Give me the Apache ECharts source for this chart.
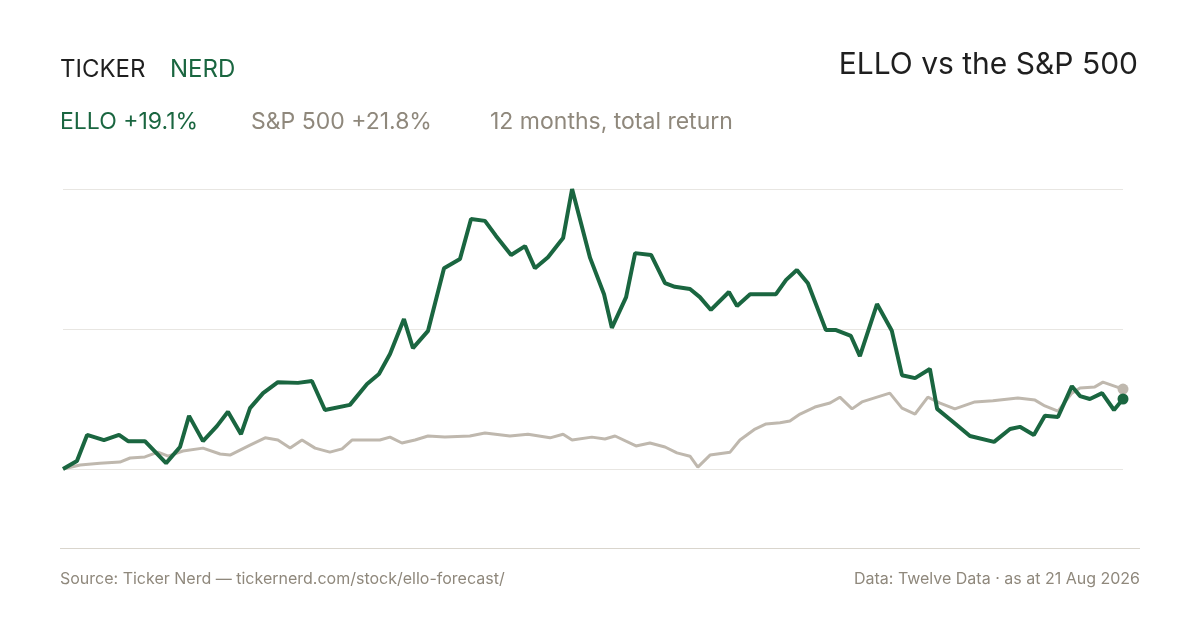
<!DOCTYPE html>
<html>
<head>
<meta charset="utf-8">
<script src="https://cdn.jsdelivr.net/npm/echarts@6/dist/echarts.min.js"></script>
<style>
html,body{margin:0;padding:0;background:#fff;}
#chart{width:1200px;height:630px;}
</style>
</head>
<body>
<div id="chart"></div>
<script>
// [day, total return %]
var ello = [[0,0],[4.8,2.2],[8.3,9.3],[14.1,7.9],[19.3,9.3],[22.4,7.6],[28.2,7.6],[35.5,1.6],[40.3,6.0],[43.4,14.5],
	[48.2,7.6],[53,11.7],[56.8,15.6],[61.3,9.5],[64.4,16.6],[68.9,20.7],[74,23.7],[80.9,23.5],[85.7,24.0],[90.2,16.1],
	[98.8,17.5],[104.7,23.2],[108.8,25.9],[112.6,31.4],[117.4,40.9],[120.5,33.0],[125.7,37.7],[131.2,54.8],[136.7,57.3],[140.5,68.2],
	[145.3,67.7],[149.1,63.6],[154.3,58.4],[159.1,60.8],[162.5,54.8],[167,57.8],[172.2,63.0],[175.3,76.4],[181.5,57.6],[186.3,47.7],
	[189,38.5],[193.9,46.9],[197,58.9],[202.5,58.4],[207.3,50.7],[210.7,49.7],[215.9,49.1],[219.3,46.9],[223.1,43.4],[229.3,48.3],
	[232.1,44.5],[236.6,47.7],[245.5,47.7],[249,51.6],[252.7,54.3],[256.5,50.7],[262.7,37.9],[266.2,37.9],[271.3,36.3],[274.4,30.8],
	[280.3,45.0],[285.4,37.7],[288.9,25.6],[293.4,24.8],[298.5,27.3],[301,16.4],[306.1,13.1],[312.3,9.0],[320.6,7.4],[326.1,10.9],
	[329.5,11.5],[334.3,9.3],[338.1,14.5],[342.6,14.2],[347.4,22.6],[350.2,19.9],[353.6,19.1],[357.8,20.7],[361.9,16.1],[365,19.1]];
var spx = [[0,0],[5.9,1.1],[12.7,1.6],[19.6,1.9],[23.1,3.0],[28.2,3.3],[32.7,4.6],[36.2,3.5],[41.3,4.9],[48.2,5.7],
	[54.1,4.1],[57.5,3.8],[64.4,6.5],[69.6,8.5],[74,7.9],[78.2,5.7],[82.3,7.9],[86.8,5.7],[91.9,4.6],[96.1,5.5],
	[99.5,7.9],[109.1,7.9],[112.6,8.7],[116.7,7.1],[121.2,7.9],[125.7,9.0],[131.5,8.7],[140.1,9.0],[145.3,9.8],[153.9,9.0],
	[160.1,9.5],[167.7,8.5],[172.2,9.5],[175.3,7.9],[182.1,8.7],[186.6,8.2],[190.1,9.0],[197.3,6.3],[202.1,7.1],[207.3,6.0],
	[211.4,4.4],[215.9,3.5],[218.6,0.5],[222.8,3.8],[229.7,4.6],[233.1,7.9],[238.3,10.9],[242.1,12.3],[246.9,12.6],[250.3,13.1],
	[253.8,15.0],[258.9,16.9],[264.1,18.0],[267.5,19.6],[271.7,16.4],[275.1,18.3],[280.3,19.6],[284.7,20.7],[288.9,16.6],[293.4,15.0],
	[297.8,19.6],[302,18.0],[307.1,16.4],[314,18.3],[320.2,18.6],[328.8,19.4],[334.7,18.8],[338.1,17.2],[342.6,15.8],[347.4,20.7],
	[350.2,22.1],[355.3,22.4],[358.1,23.7],[365,21.8]];

var myChart = echarts.init(document.getElementById('chart'));
var font = 'Inter, "Noto Sans", sans-serif';
var option = {
	backgroundColor: '#fff',
	animation: false,
	grid: {left: 63, right: 77, top: 189, bottom: 161},
	xAxis: {type: 'value', min: 0, max: 365, show: false},
	yAxis: {
		type: 'value', min: 0, max: 76.4, interval: 38.2,
		axisLabel: {show: false}, axisLine: {show: false}, axisTick: {show: false},
		splitLine: {lineStyle: {color: '#e8e6e2', width: 1}}
	},
	graphic: [
		{type: 'text', left: 60, top: 58, style: {text: 'TICKER', font: '400 24px ' + font, fill: '#1f1f1f', letterSpacing: 2}},
		{type: 'text', left: 170, top: 58, style: {text: 'NERD', font: '400 24px ' + font, fill: '#1a6640', letterSpacing: 2}},
		{type: 'text', right: 62, top: 50, style: {text: 'ELLO vs the S&P 500', font: '400 30px ' + font, fill: '#1f1f1f'}},
		{type: 'text', left: 60, top: 111, style: {text: 'ELLO +19.1%', font: '400 23px ' + font, fill: '#1a6640'}},
		{type: 'text', left: 251, top: 111, style: {text: 'S&P 500 +21.8%', font: '400 23px ' + font, fill: '#8f887c'}},
		{type: 'text', left: 490, top: 111, style: {text: '12 months, total return', font: '400 23px ' + font, fill: '#8f887c'}},
		{type: 'rect', shape: {x: 60, y: 548, width: 1080, height: 1}, style: {fill: '#d9d5cd'}},
		{type: 'text', left: 60, top: 571, style: {text: 'Source: Ticker Nerd \u2014 tickernerd.com/stock/ello-forecast/', font: '400 16px ' + font, fill: '#8f887c'}},
		{type: 'text', right: 60, top: 571, style: {text: 'Data: Twelve Data \u00b7 as at 21 Aug 2026', font: '400 16px ' + font, fill: '#8f887c'}}
	],
	series: [
		{
			name: 'S&P 500', type: 'line', data: spx, symbol: 'none', z: 2,
			lineStyle: {color: '#bfb8ae', width: 3},
			markPoint: {symbol: 'circle', symbolSize: 11, itemStyle: {color: '#bfb8ae'}, label: {show: false},
				data: [{coord: spx[spx.length - 1]}]}
		},
		{
			name: 'ELLO', type: 'line', data: ello, symbol: 'none', z: 3,
			lineStyle: {color: '#1a6640', width: 4},
			markPoint: {symbol: 'circle', symbolSize: 11, itemStyle: {color: '#1a6640'}, label: {show: false},
				data: [{coord: ello[ello.length - 1]}]}
		}
	]
};
myChart.setOption(option);
</script>
</body>
</html>
